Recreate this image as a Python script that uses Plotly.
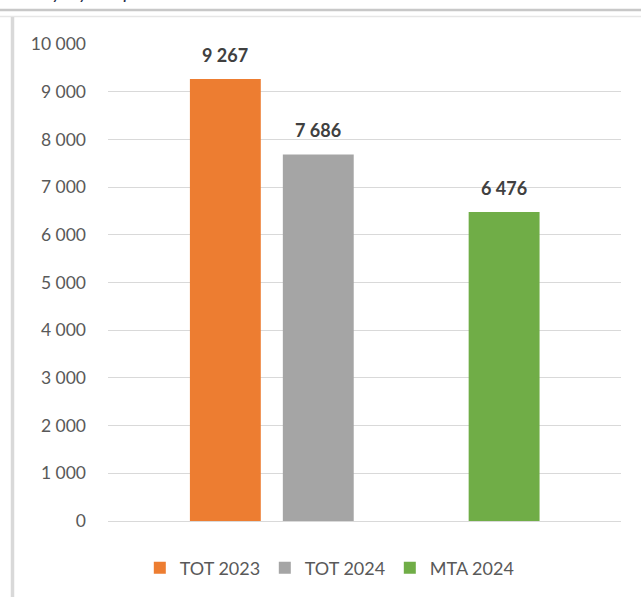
import plotly.graph_objects as go

series = ["TOT 2023", "TOT 2024", "MTA 2024"]
values = [9267, 7686, 6476]
colors = ["#ED7D31", "#A5A5A5", "#70AD47"]
slots = ["TOT 2023", "TOT 2024", "_", "MTA 2024"]
y_ticks = [0, 1000, 2000, 3000, 4000, 5000, 6000, 7000, 8000, 9000, 10000]
title_text = "Uusia yrityksiä perustettu tuetusta"

FONT = "Lato, 'Open Sans', sans-serif"

fig = go.Figure()
for name, val, col in zip(series, values, colors):
    fig.add_trace(go.Bar(
        x=[name], y=[val], name=name, marker=dict(color=col, line=dict(width=0)),
        width=0.763, hoverinfo="skip",
    ))
    fig.add_annotation(
        x=name, y=val, text=f"{val:,}".replace(",", " "), showarrow=False,
        yanchor="bottom", yshift=11,
        font=dict(family=FONT, size=18, color="#404040", weight="bold"),
    )

# page frame lines (from the surrounding document)
fig.add_shape(type="line", xref="paper", yref="paper", x0=-1, x1=2,
              y0=1 + (44 - 10) / 477, y1=1 + (44 - 10) / 477,
              line=dict(color="#C8C8C8", width=2.5))
fig.add_shape(type="line", xref="paper", yref="paper", x0=-1, x1=2,
              y0=1 + (44 - 16.5) / 477, y1=1 + (44 - 16.5) / 477,
              line=dict(color="#E6E6E6", width=1.5))
fig.add_shape(type="line", xref="paper", yref="paper",
              x0=-(108 - 12.5) / 513, x1=-(108 - 12.5) / 513,
              y0=1 + (44 - 17) / 477, y1=-2,
              line=dict(color="#D9D9D9", width=3.5))

fig.add_annotation(
    xref="paper", yref="paper", x=-(108 - 2) / 513, y=1 + (44 - 5.5) / 477,
    text=f"<i>{title_text}</i>", showarrow=False, xanchor="left", yanchor="bottom",
    font=dict(family=FONT, size=19, color="#1F2D4A"),
)

fig.update_layout(
    width=641, height=597,
    margin=dict(l=108, r=20, t=44, b=76, autoexpand=False),
    paper_bgcolor="white", plot_bgcolor="white",
    separators=". ",
    showlegend=True,
    legend=dict(
        orientation="h", x=0.062, xanchor="left", y=-0.0985, yanchor="middle",
        font=dict(family=FONT, size=18, color="#595959"),
        entrywidth=80, entrywidthmode="pixels",
        bgcolor="rgba(0,0,0,0)", traceorder="normal",
    ),
    bargap=0.237,
)
fig.update_xaxes(
    type="category", categoryorder="array", categoryarray=slots,
    range=[-1.263, 4.258], showticklabels=False, showgrid=False,
    zeroline=False, showline=False, ticks="",
)
fig.update_yaxes(
    range=[0, 10000], tickvals=y_ticks, tickformat=",d",
    showgrid=True, gridcolor="#D9D9D9", gridwidth=1.3,
    zeroline=True, zerolinecolor="#D9D9D9", zerolinewidth=1.3,
    showline=False, ticks="", ticklabelstandoff=21,
    tickfont=dict(family=FONT, size=17.5, color="#595959"),
)

fig.write_html(
    "out.html",
    config={"displayModeBar": False, "responsive": False},
    post_script=(
        "document.body.style.margin='0';"
        "document.body.style.overflow='hidden';"
        "document.documentElement.style.overflow='hidden';"
    ),
)
